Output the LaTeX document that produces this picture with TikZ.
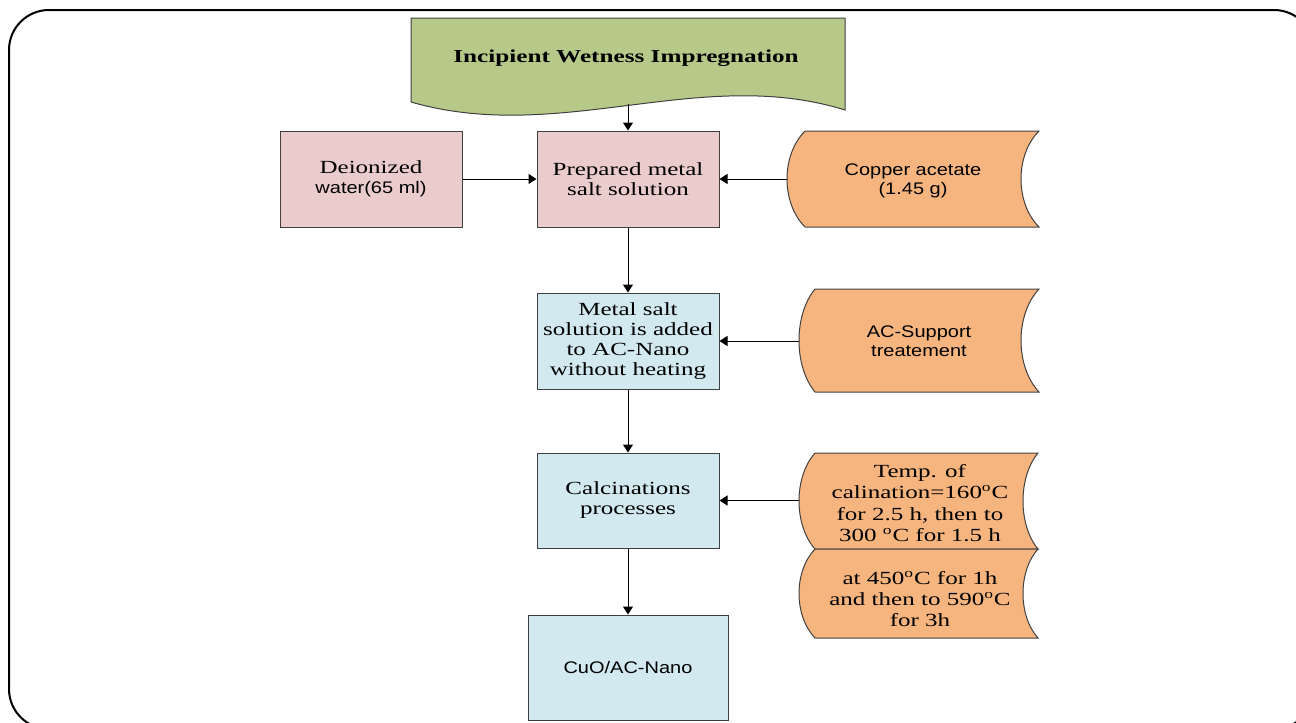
\documentclass[tikz,border=0pt]{standalone}
\usepackage{fontspec}
\setmainfont{Liberation Serif}
\setsansfont{Liberation Sans}
\usepackage{graphicx}
\usetikzlibrary{arrows.meta}
\definecolor{pinkf}{HTML}{EBCCCC}
\definecolor{bluef}{HTML}{D2E9EF}
\definecolor{orangef}{HTML}{F6B57F}
\definecolor{greenf}{HTML}{B7C989}
\definecolor{edge}{HTML}{404040}
\newcommand{\sr}[1]{\scalebox{1.35}[1]{#1}}
\newcommand{\sa}[1]{\scalebox{1.19}[1]{\sffamily\fontsize{12.6}{14.25}\selectfont #1}}
% stored-data shape: xl xr yt yb dleft dright
\newcommand{\storedshape}[6]{%
  \filldraw[storeshape] (#1,#3) -- (#2,#3)
    .. controls ({#2-4*#6/3},{#3+(#4-#3)/4}) and ({#2-4*#6/3},{#4-(#4-#3)/4}) .. (#2,#4)
    -- (#1,#4)
    .. controls ({#1-4*#5/3},{#4-(#4-#3)/4}) and ({#1-4*#5/3},{#3+(#4-#3)/4}) .. (#1,#3) -- cycle;}
\tikzset{
  box/.style={draw=edge, line width=0.75pt, minimum width=136.5pt, minimum height=72pt,
    align=center, inner sep=0pt, font=\fontsize{13.9}{15}\selectfont},
  pinkbox/.style={box, fill=pinkf},
  bluebox/.style={box, fill=bluef},
  storeshape/.style={draw=edge, fill=orangef, line width=0.75pt},
  txt/.style={align=center, inner sep=0pt, font=\fontsize{13.9}{15}\selectfont},
  stxt/.style={align=center, inner sep=0pt, font=\sffamily\fontsize{12.6}{14.25}\selectfont},
  arr/.style={draw=black, line width=0.75pt, -{Triangle[length=6pt,width=7.5pt]}}
}
\begin{document}
\begin{tikzpicture}[x=0.75pt,y=-0.75pt]
\useasboundingbox (0,0) rectangle (1296,722);
\begin{scope}
\clip (0,0) rectangle (1296,722);
\draw[line width=1.5pt, rounded corners=30pt] (9,10) rectangle (1314,729);
\end{scope}
% banner
\filldraw[draw=edge, fill=greenf, line width=0.75pt] (411,18) -- (845,18) -- (845,110)
  .. controls (700,65) and (560,145) .. (411,102) -- cycle;
\node[txt, font=\bfseries\fontsize{13.7}{15}\selectfont] (title) at (626,58) {\scalebox{1.38}[1]{Incipient Wetness Impregnation}};
\coordinate (tb) at (628,104);
% boxes
\node[pinkbox] (dei) at (371,179) {\sr{Deionized}\\\sa{water(65 ml)}};
\node[pinkbox] (prep) at (628,179) {\sr{Prepared metal}\\\sr{salt solution}};
\node[bluebox] (metal) at (628,341) {\sr{Metal salt}\\\sr{solution is added}\\\sr{to AC-Nano}\\\sr{without heating}};
\node[bluebox, minimum height=71.25pt] (calc) at (628,500.5) {\sr{Calcinations}\\\sr{processes}};
\node[bluebox, minimum width=150pt, minimum height=78.75pt] (cuo) at (628,667.5) {\sa{CuO/AC-Nano}};
% stored shapes
\storedshape{805}{1039}{131}{227}{18}{18}
\node[stxt] (copper) at (913,181) {\sa{Copper acetate}\\\sa{(1.45 g)}};
\coordinate (cuL) at (787,179);
\storedshape{815}{1039}{289}{392}{16}{18}
\node[stxt] (acs) at (919,341) {\sa{AC-Support}\\\sa{treatement}};
\coordinate (acL) at (799,341);
\storedshape{815}{1038}{453}{549}{16}{15}
\node[txt, font=\fontsize{13.9}{16}\selectfont] (temp1) at (920,503) {\sr{Temp. of}\\\sr{calination=160\textsuperscript{o}C}\\\sr{for 2.5 h, then to}\\\sr{300 \textsuperscript{o}C for 1.5 h}};
\coordinate (tL) at (799,500.5);
\storedshape{815}{1038}{549}{638}{16}{15}
\node[txt, font=\fontsize{13.9}{16}\selectfont] (temp2) at (920,599) {\sr{at 450\textsuperscript{o}C for 1h}\\\sr{and then to 590\textsuperscript{o}C}\\\sr{for 3h}};
% arrows
\draw[arr] (tb) -- (prep.north);
\draw[arr] (dei.east) -- (prep.west);
\draw[arr] (cuL) -- (prep.east);
\draw[arr] (prep.south) -- (metal.north);
\draw[arr] (acL) -- (metal.east);
\draw[arr] (metal.south) -- (calc.north);
\draw[arr] (tL) -- (calc.east);
\draw[arr] (calc.south) -- (cuo.north);
\end{tikzpicture}
\end{document}
